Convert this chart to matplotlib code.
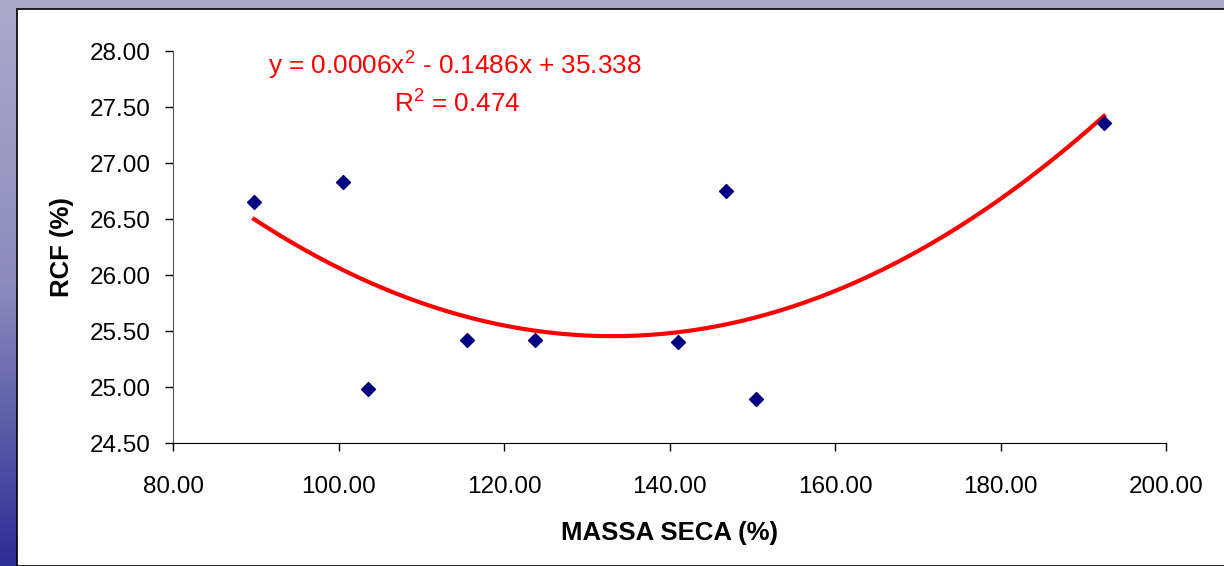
import numpy as np
import matplotlib
matplotlib.use("Agg")
import matplotlib.pyplot as plt
from matplotlib.patches import Rectangle

plt.rcParams['font.family'] = ['Liberation Sans', 'DejaVu Sans']

# Data
massa_seca = [89.8, 100.5, 103.6, 115.5, 123.8, 141.0, 146.8, 150.4, 192.5]
rcf = [26.65, 26.83, 24.98, 25.42, 25.42, 25.40, 26.75, 24.89, 27.36]
x_ticks = [80, 100, 120, 140, 160, 180, 200]
y_ticks = [24.5, 25.0, 25.5, 26.0, 26.5, 27.0, 27.5, 28.0]
equation = "y = 0.0006x$^2$ - 0.1486x + 35.338"
r_squared = "R$^2$ = 0.474"

plt.rcParams['mathtext.fontset'] = 'custom'
plt.rcParams['mathtext.rm'] = 'Liberation Sans'
plt.rcParams['mathtext.it'] = 'Liberation Sans'
plt.rcParams['mathtext.default'] = 'regular'

fig = plt.figure(figsize=(12.24, 5.66), dpi=100)

# background: vertical gradient frame with white panel
bg = fig.add_axes([0, 0, 1, 1], zorder=-10)
grad = np.linspace(0, 1, 256).reshape(-1, 1)
cmap = matplotlib.colors.LinearSegmentedColormap.from_list(
    "frame", ["#a9abcc", "#8b8cbd", "#2e2c95"])
bg.imshow(grad, aspect='auto', cmap=cmap, extent=[0, 1, 0, 1])
bg.add_patch(Rectangle((17 / 1224, 0), 1, 1 - 9 / 566, facecolor='white',
                       edgecolor='black', linewidth=1.2))
bg.set_xlim(0, 1)
bg.set_ylim(0, 1)
bg.axis('off')

ax = fig.add_axes([173 / 1224, 1 - 443 / 566, (1166 - 173) / 1224, (443 - 51) / 566])
ax.patch.set_alpha(0)

ax.scatter(massa_seca, rcf, marker='D', s=50, color='#000080', zorder=3)

# polynomial (order 2) trendline
coef = np.polyfit(massa_seca, rcf, 2)
xs = np.linspace(min(massa_seca), max(massa_seca), 200)
ax.plot(xs, np.polyval(coef, xs), color='#ff0000', linewidth=3, zorder=2)

ax.set_xlim(80, 200)
ax.set_ylim(24.5, 28.0)
ax.set_xticks(x_ticks)
ax.set_yticks(y_ticks)
ax.set_xticklabels([f"{v:.2f}" for v in x_ticks])
ax.set_yticklabels([f"{v:.2f}" for v in y_ticks])
ax.tick_params(axis='both', direction='out', length=6, width=1, labelsize=17.5, colors='black')
ax.tick_params(axis='y', pad=10)
ax.tick_params(axis='x', pad=18)

for side in ['top', 'right']:
    ax.spines[side].set_visible(False)
ax.spines['left'].set_color('#555555')
ax.spines['bottom'].set_color('black')

ax.set_xlabel("MASSA SECA (%)", fontsize=18.5, fontweight='bold', labelpad=16)
ax.set_ylabel("RCF (%)", fontsize=18.5, fontweight='bold', labelpad=11)

ax.text(0.284, 0.962, equation, transform=ax.transAxes, color='#ff0000',
        fontsize=18.8, ha='center', va='center')
ax.text(0.286, 0.865, r_squared, transform=ax.transAxes, color='#ff0000',
        fontsize=18.8, ha='center', va='center')

fig.savefig("out.png", dpi=100)
